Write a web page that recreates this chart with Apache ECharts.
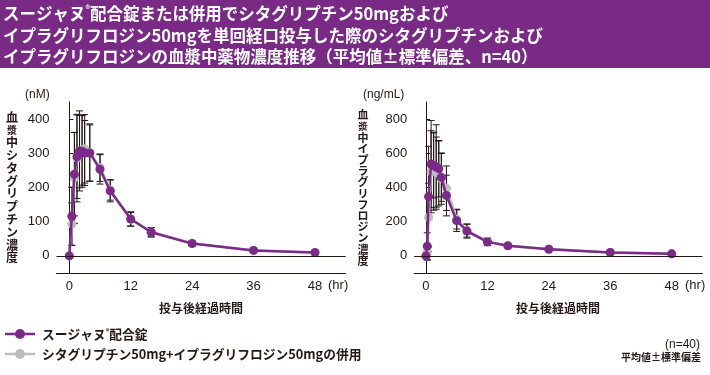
<!DOCTYPE html>
<html><head><meta charset="utf-8">
<script src="https://cdn.jsdelivr.net/npm/echarts@6/dist/echarts.min.js"></script>
<style>html,body{margin:0;padding:0;background:#fff}#c{width:710px;height:375px}</style>
</head><body><div id="c"></div>
<script>
// ---- data ----
const timesSita = [0, 0.5, 1, 1.5, 2, 2.5, 3, 4, 6, 8, 12, 16, 24, 36, 48];
const sitaFix = [0, 116, 239, 290, 307, 306, 301, 301, 253, 190, 108, 69, 36, 16, 10];
const sitaFixSD = [0, 85, 122, 122, 117, 105, 95, 82, 43, 32, 21, 14, 8, 4, 3];
const sitaCo = [0, 93, 228, 286, 305, 309, 313, 302, 258, 193, 107, 70, 37, 16, 9];
const sitaCoSD = [0, 62, 133, 128, 106, 102, 100, 84, 40, 30, 20, 13, 8, 4, 3];

const timesIpra = [0, 0.25, 0.5, 1, 1.5, 2, 2.5, 3, 4, 6, 8, 12, 16, 24, 36, 48];
const ipraFix = [0, 57, 347, 537, 529, 520, 510, 459, 353, 206, 145, 82, 59, 39, 20, 12];
const ipraFixSD = [0, 78, 294, 255, 190, 247, 165, 140, 119, 63, 41, 22, 13, 8, 4, 3];
const ipraCo = [0, 20, 225, 492, 495, 490, 482, 452, 396, 215, 148, 84, 60, 40, 20, 12];
const ipraCoSD = [0, 45, 200, 240, 228, 205, 190, 150, 130, 58, 38, 20, 12, 8, 4, 3];

const xTicks = [0, 12, 24, 36, 48];
const ySitaTicks = [0, 100, 200, 300, 400];
const yIpraTicks = [0, 200, 400, 600, 800];

const titleLines = [
  'スージャヌ®配合錠または併用でシタグリプチン50mgおよび',
  'イプラグリフロジン50mgを単回経口投与した際のシタグリプチンおよび',
  'イプラグリフロジンの血漿中薬物濃度推移（平均値±標準偏差、n=40）'
];
const legendNames = ['スージャヌ®配合錠', 'シタグリプチン50mg+イプラグリフロジン50mgの併用'];
const yTitleSita = '血漿中シタグリプチン濃度';
const yTitleIpra = '血漿中イプラグリフロジン濃度';

// ---- style ----
const PURPLE = '#7b2a88';
const GRAY = '#bdbdbd';
const INK = '#231815';
const JP = '"Noto Sans CJK JP", sans-serif';
const NUM = '"Liberation Sans", Arial, sans-serif';

function pts(t, v) { return t.map((x, i) => [x, v[i]]); }
function errs(t, v, sd) { return t.map((x, i) => [x, v[i], sd[i]]); }

function errRender(params, api) {
  const x = api.value(0), m = api.value(1), s = api.value(2);
  if (!s) return null;
  const top = api.coord([x, m + s]);
  const bot = api.coord([x, m - s]);
  const w = 3.5;
  const st = { stroke: INK, lineWidth: 1 };
  return {
    type: 'group',
    children: [
      { type: 'line', shape: { x1: top[0], y1: top[1], x2: bot[0], y2: bot[1] }, style: st },
      { type: 'line', shape: { x1: top[0] - w, y1: top[1], x2: top[0] + w, y2: top[1] }, style: st },
      { type: 'line', shape: { x1: bot[0] - w, y1: bot[1], x2: bot[0] + w, y2: bot[1] }, style: st }
    ]
  };
}

function xAxisDef(idx, min) {
  return {
    type: 'value', gridIndex: idx, min: min, max: 54,
    axisLine: { onZero: false, lineStyle: { color: INK, width: 1 } },
    axisTick: { show: false },
    splitLine: { show: false },
    axisLabel: { customValues: xTicks, color: INK, fontFamily: NUM, fontSize: 13, margin: 7 }
  };
}
function yAxisDef(idx, min, max, ticks) {
  return {
    type: 'value', gridIndex: idx, min: min, max: max,
    axisLine: { show: true, lineStyle: { color: INK, width: 1 } },
    axisTick: { show: true, inside: true, length: 4, customValues: ticks, lineStyle: { color: INK } },
    splitLine: { show: false },
    axisLabel: { customValues: ticks, color: INK, fontFamily: NUM, fontSize: 13, margin: 7 }
  };
}
function lineSeries(name, idx, data, color, z) {
  return {
    type: 'line', name: name, xAxisIndex: idx, yAxisIndex: idx, data: data,
    symbol: 'circle', symbolSize: 9, z: z,
    lineStyle: { color: color, width: 2.5 },
    itemStyle: { color: color },
    animation: false
  };
}
function errSeries(idx, data) {
  return {
    type: 'custom', xAxisIndex: idx, yAxisIndex: idx, data: data,
    renderItem: errRender, z: 2, silent: true, animation: false
  };
}
function zeroLine() {
  return {
    silent: true, symbol: 'none', animation: false,
    label: { show: false },
    lineStyle: { color: INK, width: 1, type: 'solid' },
    data: [{ yAxis: 0 }]
  };
}

function vertRich(str) {
  return str.split('').map(ch => ch === '漿' ? '{s|' + ch + '}' : '{a|' + ch + '}').join('\n');
}

const graphics = [
  { type: 'rect', left: 0, top: 0, shape: { width: 710, height: 68 }, style: { fill: '#782a85' }, z: 0 },
];
titleLines.forEach((t, i) => {
  const parts = t.split('®');
  const txt = parts.length > 1 ? '{a|' + parts[0] + '}{r|®}{a|' + parts[1] + '}' : '{a|' + t + '}';
  graphics.push({
    type: 'text', x: 3, y: 14 + i * 21.5, scaleX: 0.97,
    style: {
      text: txt, fill: '#fff', verticalAlign: 'middle', align: 'left',
      rich: {
        a: { fontFamily: JP, fontWeight: 'bold', fontSize: 17, fill: '#fff' },
        r: { fontFamily: JP, fontWeight: 'bold', fontSize: 9, fill: '#fff', verticalAlign: 'top', padding: [0, 0, 8, 0] }
      }
    }, z: 10
  });
});
// units
graphics.push({ type: 'text', x: 25, y: 95, style: { text: '(nM)', font: '12px ' + NUM, fill: INK, verticalAlign: 'middle' } });
graphics.push({ type: 'text', x: 363, y: 95, style: { text: '(ng/mL)', font: '12px ' + NUM, fill: INK, verticalAlign: 'middle' } });
// (hr)
graphics.push({ type: 'text', x: 328, y: 285, style: { text: '(hr)', font: '13px ' + NUM, fill: INK, verticalAlign: 'middle' } });
graphics.push({ type: 'text', x: 685, y: 285, style: { text: '(hr)', font: '13px ' + NUM, fill: INK, verticalAlign: 'middle' } });
// x titles
graphics.push({ type: 'text', x: 201, y: 308, style: { text: '投与後経過時間', font: 'bold 12px ' + JP, fill: INK, align: 'center', verticalAlign: 'middle' } });
graphics.push({ type: 'text', x: 558, y: 308, style: { text: '投与後経過時間', font: 'bold 12px ' + JP, fill: INK, align: 'center', verticalAlign: 'middle' } });
// y titles
graphics.push({ type: 'text', x: 12, y: 110.6, style: { text: vertRich(yTitleSita), align: 'center', verticalAlign: 'top',
  rich: { a: { fontFamily: JP, fontWeight: 'bold', fontSize: 12, lineHeight: 12.8, fill: INK, align: 'center' },
          s: { fontFamily: JP, fontWeight: 'bold', fontSize: 10, lineHeight: 12.8, fill: INK, align: 'center' } } } });
graphics.push({ type: 'text', x: 363, y: 109.4, style: { text: vertRich(yTitleIpra), align: 'center', verticalAlign: 'top',
  rich: { a: { fontFamily: JP, fontWeight: 'bold', fontSize: 11, lineHeight: 11.2, fill: INK, align: 'center' },
          s: { fontFamily: JP, fontWeight: 'bold', fontSize: 9.5, lineHeight: 11.2, fill: INK, align: 'center' } } } });
// legend
[[PURPLE, 334, 0], [GRAY, 354, 1]].forEach(([c, y, i]) => {
  graphics.push({ type: 'line', shape: { x1: 5, y1: y, x2: 35, y2: y }, style: { stroke: c, lineWidth: 2.5 } });
  graphics.push({ type: 'circle', shape: { cx: 20, cy: y, r: 5 }, style: { fill: c } });
  const nm = legendNames[i];
  const parts = nm.split('®');
  const txt = parts.length > 1 ? '{a|' + parts[0] + '}{r|®}{a|' + parts[1] + '}' : '{a|' + nm + '}';
  graphics.push({ type: 'text', x: 42, y: y, scaleX: 0.98, style: { text: txt, verticalAlign: 'middle',
    rich: { a: { fontFamily: JP, fontWeight: 'bold', fontSize: 13, fill: INK },
            r: { fontFamily: JP, fontWeight: 'bold', fontSize: 7, fill: INK, verticalAlign: 'top', padding: [0, 0, 6, 0] } } } });
});
graphics.push({ type: 'text', x: 700, y: 345, style: { text: '(n=40)', font: '12px ' + NUM, fill: INK, align: 'right', verticalAlign: 'middle' } });
graphics.push({ type: 'text', x: 701, y: 357, style: { text: '平均値±標準偏差', font: 'bold 10px ' + JP, fill: INK, align: 'right', verticalAlign: 'middle' } });

const option = {
  animation: false,
  backgroundColor: '#fff',
  grid: [
    { left: 56.5, width: 289.2, top: 102, height: 171 },
    { left: 414.2, width: 288.2, top: 102, height: 171 }
  ],
  xAxis: [xAxisDef(0, -2.5), xAxisDef(1, -2.3)],
  yAxis: [yAxisDef(0, -50, 450, ySitaTicks), yAxisDef(1, -100, 900, yIpraTicks)],
  series: [
    errSeries(0, errs(timesSita, sitaCo, sitaCoSD)),
    errSeries(0, errs(timesSita, sitaFix, sitaFixSD)),
    Object.assign(lineSeries(legendNames[1], 0, pts(timesSita, sitaCo), GRAY, 3), { markLine: zeroLine() }),
    lineSeries(legendNames[0], 0, pts(timesSita, sitaFix), PURPLE, 4),
    errSeries(1, errs(timesIpra, ipraCo, ipraCoSD)),
    errSeries(1, errs(timesIpra, ipraFix, ipraFixSD)),
    Object.assign(lineSeries(legendNames[1], 1, pts(timesIpra, ipraCo), GRAY, 3), { markLine: zeroLine() }),
    lineSeries(legendNames[0], 1, pts(timesIpra, ipraFix), PURPLE, 4)
  ],
  graphic: graphics
};
const chart = echarts.init(document.getElementById('c'), null, { renderer: 'canvas' });
chart.setOption(option);
</script></body></html>
